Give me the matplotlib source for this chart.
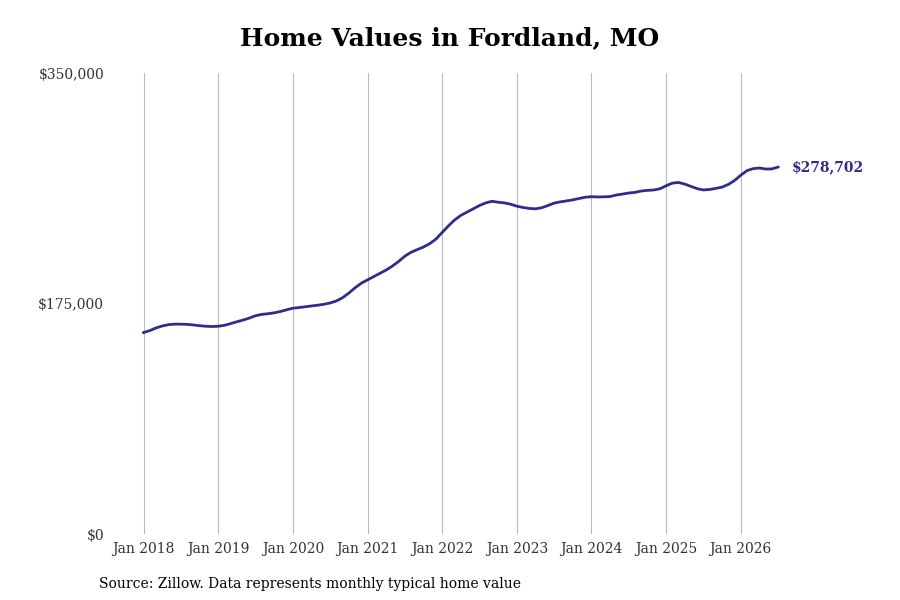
import numpy as np
import matplotlib
matplotlib.use("Agg")
import matplotlib.pyplot as plt

# monthly typical home value, Jan 2018 .. Jul 2026 (thousands of $)
values_2018 = [153.0, 154.5, 156.5, 158.0, 159.0, 159.4, 159.4, 159.2, 158.8, 158.2, 157.8, 157.6]
values_2019 = [157.8, 158.5, 159.8, 161.2, 162.5, 164.0, 165.8, 166.8, 167.3, 168.0, 169.0, 170.3]
values_2020 = [171.5, 172.0, 172.6, 173.2, 173.8, 174.5, 175.5, 177.0, 179.5, 183.0, 187.0, 190.5]
values_2021 = [193.0, 195.5, 198.0, 200.5, 203.5, 207.0, 211.0, 214.0, 216.0, 218.0, 220.5, 224.0]
values_2022 = [229.0, 234.0, 238.5, 242.0, 244.5, 247.0, 249.5, 251.5, 252.7, 252.0, 251.5, 250.5]
values_2023 = [249.0, 248.0, 247.3, 247.0, 247.8, 249.5, 251.3, 252.3, 253.0, 253.8, 254.8, 255.8]
values_2024 = [256.2, 256.0, 256.1, 256.3, 257.5, 258.2, 259.0, 259.5, 260.5, 261.0, 261.3, 262.2]
values_2025 = [264.5, 266.5, 267.0, 265.8, 264.0, 262.3, 261.3, 261.7, 262.5, 263.5, 265.5, 268.5]
values_2026 = [272.5, 276.0, 277.5, 278.0, 277.2, 277.3, 278.702]

values = np.array(values_2018 + values_2019 + values_2020 + values_2021 + values_2022
                  + values_2023 + values_2024 + values_2025 + values_2026) * 1000
t = 2018 + np.arange(len(values)) / 12.0

years = list(range(2018, 2027))
year_labels = [f"Jan {y}" for y in years]
y_ticks = [0, 175000, 350000]
y_labels = ["$0", "$175,000", "$350,000"]

color = "#2e2e8a"
plt.rcParams['font.family'] = ['DejaVu Serif']

fig = plt.figure(figsize=(9, 6), dpi=100)
ax = fig.add_axes([0.125, 0.11, 0.745, 0.768])
ax.plot(t, values, color=color, lw=2)
ax.text(t[-1] + 0.18, values[-1], "${:,.0f}".format(values[-1]), color=color,
        fontsize=10, fontweight='bold', va='center')

ax.set_xlim(2017.584, 2026.566)
ax.set_ylim(0, 350000)
ax.set_xticks(years)
ax.set_xticklabels(year_labels, fontsize=10, color="#333333")
ax.set_yticks(y_ticks)
ax.set_yticklabels(y_labels, fontsize=10, color="#333333")
ax.tick_params(length=0, pad=6)
ax.grid(axis='x', color="#bbbbbb", lw=0.8)
for s in ax.spines.values():
    s.set_visible(False)

fig.text(0.5, 0.925, "Home Values in Fordland, MO", ha='center', fontsize=18, fontweight='bold')
fig.text(0.11, 0.02, "Source: Zillow. Data represents monthly typical home value", fontsize=10)

fig.savefig("out.png", dpi=100)
